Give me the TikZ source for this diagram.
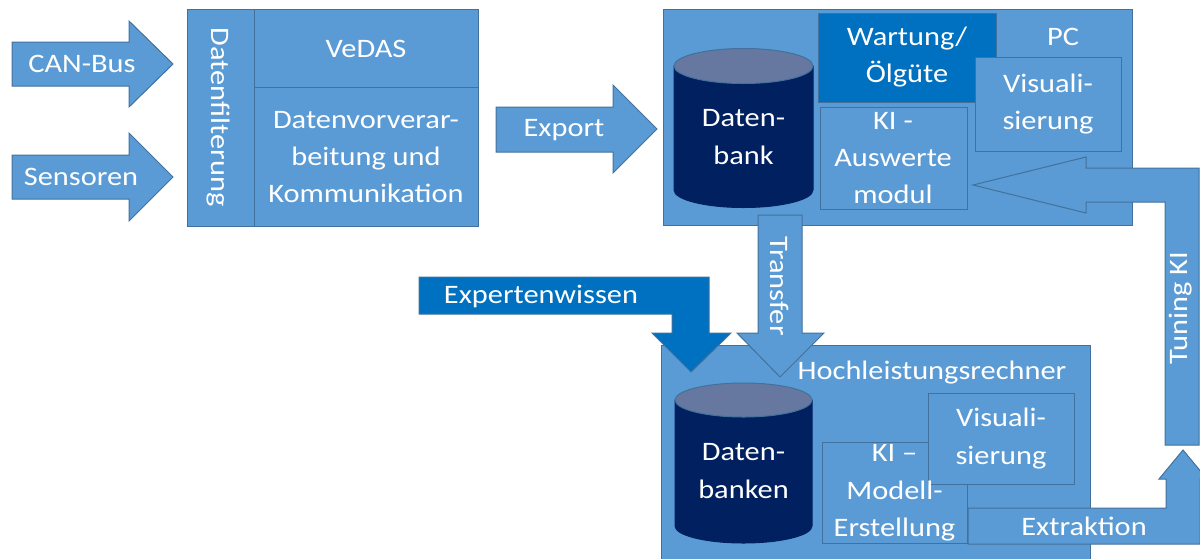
\documentclass[tikz,border=0pt]{standalone}
\usepackage{fontspec}
\setmainfont{Carlito}[FakeStretch=1.14]

\definecolor{boxblue}{RGB}{91,155,213}
\definecolor{boxedge}{RGB}{65,113,156}
\definecolor{darkblue}{RGB}{0,112,192}
\definecolor{navy}{RGB}{0,32,96}
\definecolor{cyltop}{RGB}{102,120,160}

\tikzset{every picture/.style={line width=0.75pt}}
\tikzset{
  blockfill/.style={draw=boxedge, fill=boxblue},
  darkfill/.style={draw=boxedge, fill=darkblue},
  cylbody/.style={draw=navy, fill=navy},
  cyllid/.style={draw=boxedge, fill=cyltop},
  lbl/.style={text=white, align=center, inner sep=0.75pt, font=\fontsize{20}{28}\selectfont},
}

\begin{document}
\begin{tikzpicture}[x=0.75pt,y=0.75pt,yscale=-1,xscale=1]
\useasboundingbox (0,0) rectangle (1200,558);

%Shape: Rectangle (Datenfilterung)
\draw [blockfill] (187,9) rectangle (254,226);
%Shape: Rectangle (VeDAS)
\draw [blockfill] (254,9) rectangle (478,87);
%Shape: Rectangle (Datenvorverarbeitung)
\draw [blockfill] (254,87) rectangle (478,226);

%Shape: Right Arrow (CAN-Bus)
\draw [blockfill] (12,42) -- (129,42) -- (129,21) -- (173,64) -- (129,107) -- (129,86) -- (12,86) -- cycle;
%Shape: Right Arrow (Sensoren)
\draw [blockfill] (12,155) -- (129,155) -- (129,133) -- (173,177) -- (129,221) -- (129,199) -- (12,199) -- cycle;
%Shape: Right Arrow (Export)
\draw [blockfill] (496,107) -- (613,107) -- (613,85) -- (657,129) -- (613,173) -- (613,152) -- (496,152) -- cycle;

%Shape: Rectangle (Hochleistungsrechner)
\draw [blockfill] (661,345) rectangle (1090,575);

%Shape: Rectangle (PC)
\draw [blockfill] (663,9) rectangle (1132,225);
%Shape: Can (Datenbank)
\draw [cylbody] (674,66) -- (674,190) arc [start angle=180, end angle=0, x radius=69.5, y radius=17.5] -- (813,66) -- cycle;
\draw [cyllid] (743.5,66) ellipse [x radius=69.5, y radius=17.5];
%Shape: Rectangle (Wartung)
\draw [darkfill] (818,13) rectangle (996,102);
%Shape: Rectangle (Visualisierung)
\draw [blockfill] (975,57) rectangle (1121,151);
%Shape: Rectangle (KI Auswertemodul)
\draw [blockfill] (820,107) rectangle (967,209);

%Shape: Bent Arrow (Tuning KI)
\draw [blockfill] (1165,445) -- (1199,445) -- (1199,168) -- (1086,168) -- (1086,157) -- (973,185) -- (1086,213) -- (1086,202) -- (1165,202) -- cycle;

%Shape: Down Arrow (Transfer)
\draw [blockfill] (758,215) -- (802,215) -- (802,333) -- (824,333) -- (780,377) -- (737,333) -- (758,333) -- cycle;
%Shape: Bent Arrow (Expertenwissen)
\draw [darkfill] (419,277) -- (709,277) -- (709,333) -- (731,333) -- (691,372) -- (652,333) -- (672,333) -- (672,314) -- (419,314) -- cycle;

%Shape: Can (Datenbanken)
\draw [cylbody] (675,400) -- (675,526) arc [start angle=180, end angle=0, x radius=68.5, y radius=17] -- (812,400) -- cycle;
\draw [cyllid] (743.5,400) ellipse [x radius=68.5, y radius=17];
%Shape: Rectangle (KI Modell)
\draw [blockfill] (822,442) rectangle (967,543);
%Shape: Rectangle (Visualisierung 2)
\draw [blockfill] (928,393) rectangle (1074,484);

%Shape: Bent Arrow (Extraktion)
\draw [blockfill] (968,508) -- (1166,508) -- (1166,479) -- (1159,479) -- (1183,450) -- (1207,479) -- (1200,479) -- (1200,544) -- (968,544) -- cycle;

% Text Node
\node [lbl] (canbus) at (82,64) {CAN-Bus};
% Text Node
\node [lbl] (sensoren) at (81,177) {Sensoren};
% Text Node
\node [lbl, rotate=-90] (filter) at (218,117) {Datenfilterung};
% Text Node
\node [lbl] (vedas) at (366,49) {VeDAS};
% Text Node
\node [lbl] (vorverarb) at (366,157) {Datenvorverar-\\beitung und\\Kommunikation};
% Text Node
\node [lbl] (export) at (564,130) {Export};
% Text Node
\node [lbl] (pc) at (1063,37) {PC};
% Text Node
\node [lbl] (wartung) at (907,57) {Wartung/\\Ölgüte};
% Text Node
\node [lbl] (visu) at (1048,104) {Visuali-\\sierung};
% Text Node
\node [lbl] (kiauswert) at (893,158) {KI -\\Auswerte\\modul};
% Text Node
\node [lbl] (dbank) at (743.5,137) {Daten-\\bank};
% Text Node
\node [lbl, rotate=-90] (transfer) at (780,286) {Transfer};
% Text Node
\node [lbl] (experten) at (541,296) {Expertenwissen};
% Text Node
\node [lbl] (hlr) at (932,373) {Hochleistungsrechner};
% Text Node
\node [lbl] (dbanken) at (743.5,471) {Daten-\\banken};
% Text Node
\node [lbl] (kimodell) at (894.5,493) {KI –\\Modell-\\Erstellung};
% Text Node
\node [lbl] (visuhlr) at (1001,438.5) {Visuali-\\sierung};
% Text Node
\node [lbl] (extraktion) at (1084,526) {Extraktion};
% Text Node
\node [lbl, rotate=90] (tuning) at (1181,308) {Tuning KI};

\end{tikzpicture}
\end{document}
